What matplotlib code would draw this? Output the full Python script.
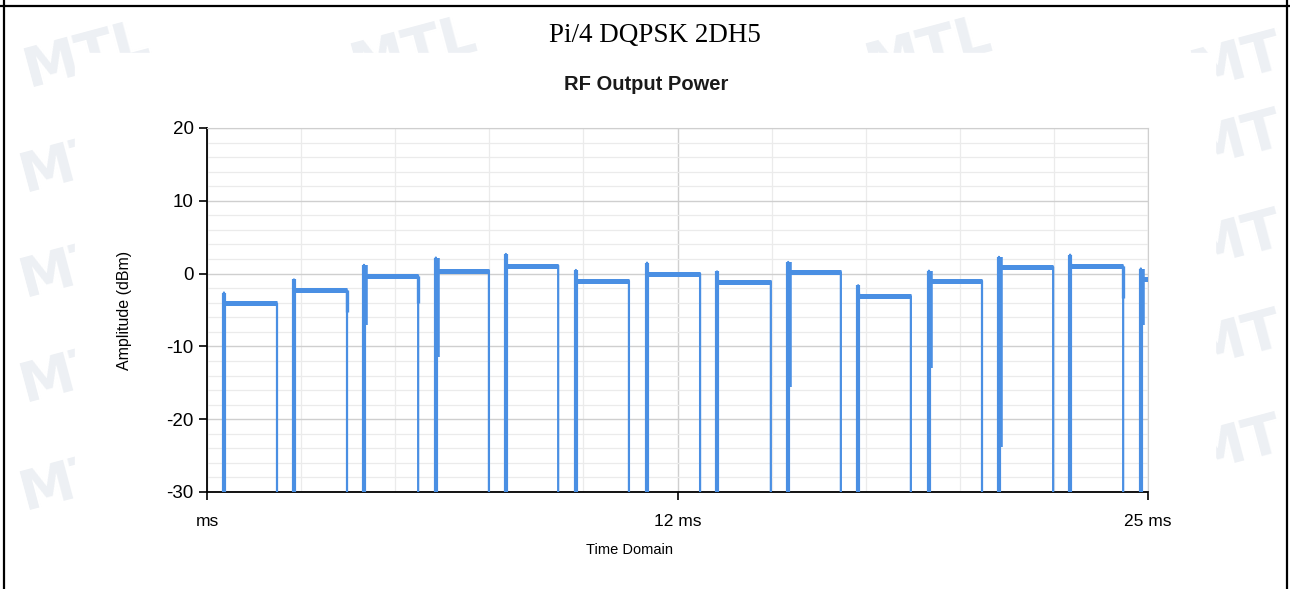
import matplotlib
matplotlib.use("Agg")
from matplotlib import pyplot as plt
from matplotlib.patches import Rectangle
from matplotlib.lines import Line2D
from matplotlib.ticker import MultipleLocator

plt.rcParams['axes.unicode_minus'] = False

# burst data (time in ms, amplitude in dBm)
burst_start = [0.45, 2.31, 4.17, 6.08, 7.94, 9.80, 11.69, 13.55, 15.44, 17.30, 19.18, 21.04, 22.93, 24.81]
burst_end = [1.86, 3.72, 5.61, 7.49, 9.33, 11.21, 13.10, 14.98, 16.84, 18.70, 20.59, 22.48, 24.34, 25.6]
burst_level = [-4.1, -2.3, -0.3, 0.4, 1.1, -1.0, 0.0, -1.1, 0.2, -3.1, -1.0, 0.9, 1.0, -0.8]
burst_peak = [-2.6, -0.8, 1.2, 2.2, 2.7, 0.5, 1.5, 0.3, 1.6, -1.6, 0.4, 2.3, 2.6, 0.7]
start_dip = [None, None, -7.0, -11.5, None, None, None, None, -15.6, None, -13.0, -23.8, None, -7.1]
end_dip = [None, -5.3, -4.1, None, None, None, None, None, None, None, None, None, -3.3, None]
floor_db = -45

x_ticks = [0, 12.5, 25]
x_labels = ["ms", "12 ms", "25 ms"]

W, H = 1290, 589
blue = "#4A8FE3"

fig = plt.figure(figsize=(W / 100, H / 100), dpi=100)

# faint watermark, mostly hidden behind the pasted chart image
wm = dict(color="#edf0f4", fontsize=40, fontweight="bold", rotation=15,
          family="DejaVu Sans", zorder=-3, ha="left", va="center")
for px, py, s in [(18, 55, "MTL"), (345, 50, "MTL"), (860, 50, "MTL"), (1185, 62, "MT")]:
    fig.text(px / W, 1 - py / H, s, **wm)
for py in [160, 265, 370, 478]:
    fig.text(14 / W, 1 - py / H, "MTL", **wm)
for py in [140, 240, 340, 445]:
    fig.text(1185 / W, 1 - py / H, "MT", **wm)
fig.patches.append(Rectangle((75 / W, 1 - 565 / H), (1215 - 75) / W, (565 - 53) / H,
                             transform=fig.transFigure, color="white", zorder=-2))

# table cell frame
for xs, ys in [([4, 4], [0, H]), ([1287, 1287], [0, H]), ([0, W], [6, 6])]:
    fig.add_artist(Line2D([x / W for x in xs], [1 - y / H for y in ys], color="black",
                          lw=1.6, transform=fig.transFigure))

fig.text(655 / W, 1 - 35 / H, "Pi/4 DQPSK 2DH5", family="Liberation Serif", fontsize=19.5,
         ha="center", va="center")
fig.text(646 / W, 1 - 84 / H, "RF Output Power", family="Liberation Sans", fontsize=14.5,
         fontweight="bold", ha="center", va="center", color="#1a1a1a")

ax = fig.add_axes([207 / W, 1 - 492 / H, (1148 - 207) / W, (492 - 128) / H])

# build the trace
tx, ty = [0], [floor_db]
for s, e, lv, pk in zip(burst_start, burst_end, burst_level, burst_peak):
    tx += [s, s, s + 0.03, e, e]
    ty += [floor_db, pk, lv, lv, floor_db]
ax.plot(tx, ty, color=blue, lw=1.6, zorder=3)
ax.vlines(burst_start, floor_db, burst_peak, color=blue, lw=3.0, zorder=3)
ax.hlines(burst_level, burst_start, burst_end, color=blue, lw=3.6, zorder=3)
for s, d, pk in zip(burst_start, start_dip, burst_peak):
    if d is not None:
        ax.vlines(s + 0.02, d, pk, color=blue, lw=4.0, zorder=3)
for e, d, lv in zip(burst_end, end_dip, burst_level):
    if d is not None:
        ax.vlines(e, d, lv, color=blue, lw=2.4, zorder=3)

ax.set_xlim(0, 25)
ax.set_ylim(-30, 20)
ax.set_xticks(x_ticks)
ax.set_xticklabels(x_labels)
ax.xaxis.set_minor_locator(MultipleLocator(2.5))
ax.yaxis.set_major_locator(MultipleLocator(10))
ax.yaxis.set_minor_locator(MultipleLocator(2))
ax.grid(True, which="major", color="#cfcfcf", lw=1.0)
ax.grid(True, which="minor", color="#ebebeb", lw=0.9)
ax.set_axisbelow(True)
ax.tick_params(which="minor", length=0)
ax.tick_params(which="major", length=6, width=1.2, labelsize=12.5, colors="black")
ax.tick_params(axis="y", labelsize=13.5)
ax.tick_params(axis="x", pad=10)
for lab in ax.get_xticklabels() + ax.get_yticklabels():
    lab.set_family("Liberation Sans")

for side in ["top", "right"]:
    ax.spines[side].set_color("#cfcfcf")
for side in ["left", "bottom"]:
    ax.spines[side].set_linewidth(1.3)

fig.text(125 / W, 1 - 310 / H, "Amplitude (dBm)", family="Liberation Sans", fontsize=11.5,
         rotation=90, ha="center", va="center")
fig.text(629 / W, 1 - 550 / H, "Time Domain", family="Liberation Sans", fontsize=10.5,
         ha="center", va="center")

fig.savefig("out.png", dpi=100, facecolor="white")
